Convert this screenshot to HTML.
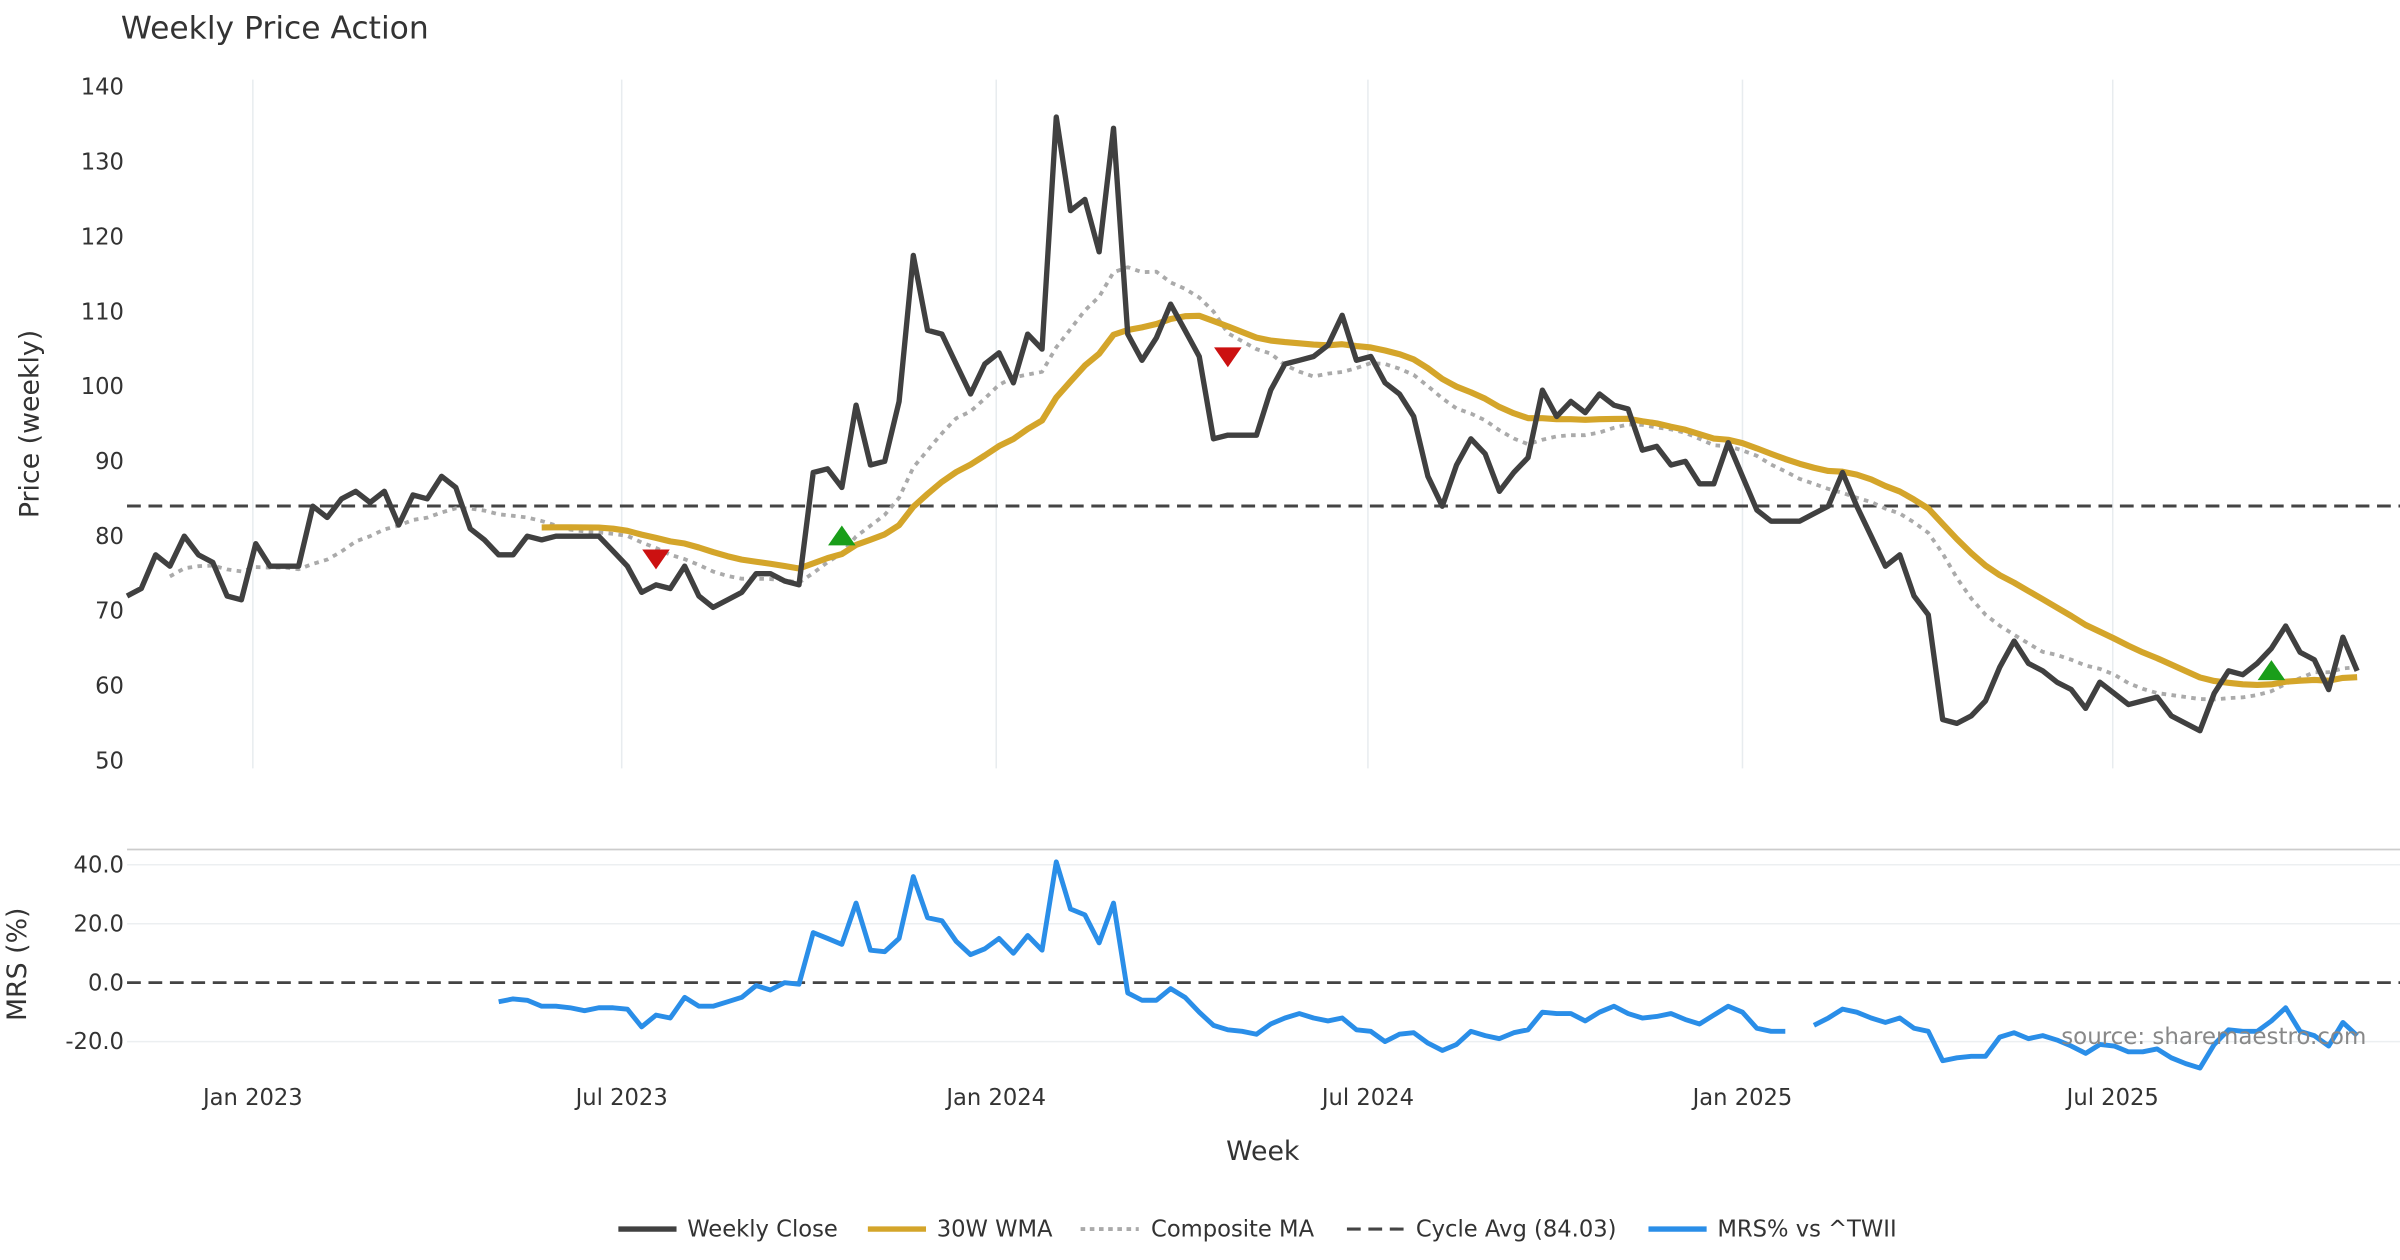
<!DOCTYPE html>
<html><head><meta charset="utf-8"><style>
html,body{margin:0;padding:0;background:#fff;}
svg{display:block;font-family:"DejaVu Sans","Liberation Sans",sans-serif;}
</style></head><body>
<svg id="chart" width="2400" height="1260" viewBox="0 0 1568 823.2" xmlns="http://www.w3.org/2000/svg">
<rect width="1568" height="823.2" fill="#fff"/>
<text x="79" y="25" font-size="20.5" fill="#333">Weekly Price Action</text>
<g id="grid"></g>
<g id="upper"></g>
<g id="lower"></g>
<text transform="translate(25,277) rotate(-90)" text-anchor="middle" font-size="17.5" fill="#333">Price (weekly)</text>
<text transform="translate(17,630) rotate(-90)" text-anchor="middle" font-size="17.5" fill="#333">MRS (%)</text>
<text x="825" y="758" text-anchor="middle" font-size="17.5" fill="#333">Week</text>
<text x="1546" y="682" text-anchor="end" font-size="15" fill="#888">source: sharemaestro.com</text>
<g font-size="14.8" fill="#333">
<line x1="404" y1="803" x2="442" y2="803" stroke="#404040" stroke-width="3.5"/><text x="449" y="808">Weekly Close</text>
<line x1="567" y1="803" x2="605" y2="803" stroke="#d4a52a" stroke-width="3.5"/><text x="612" y="808">30W WMA</text>
<line x1="706" y1="803" x2="744" y2="803" stroke="#aaa" stroke-width="2.5" stroke-dasharray="3,3"/><text x="752" y="808">Composite MA</text>
<line x1="880" y1="803" x2="918" y2="803" stroke="#444" stroke-width="2" stroke-dasharray="9,5"/><text x="925" y="808">Cycle Avg (84.03)</text>
<line x1="1077" y1="803" x2="1115" y2="803" stroke="#2a8ee8" stroke-width="3.5"/><text x="1122" y="808">MRS% vs ^TWII</text>
</g>
</svg>
<script>
const closes=[72,73,77.5,76,80,77.5,76.5,72,71.5,79,
76,76,76,84,82.5,85,86,84.5,86,81.5,
85.5,85,88,86.5,81,79.5,77.5,77.5,80,79.5,
80,80,80,80,78,76,72.5,73.5,73,76,
72,70.5,71.5,72.5,75,75,74,73.5,88.5,89,
86.5,97.5,89.5,90,98,117.5,107.5,107,103,99,
103,104.5,100.5,107,105,136,123.5,125,118,134.5,
107,103.5,106.5,111,107.5,104,93,93.5,93.5,93.5,
99.5,103,103.5,104,105.5,109.5,103.5,104,100.5,99,
96,88,84,89.5,93,91,86,88.5,90.5,99.5,
96,98,96.5,99,97.5,97,91.5,92,89.5,90,
87,87,92.5,88,83.5,82,82,82,83,84,
88.5,84,80,76,77.5,72,69.5,55.5,55,56,
58,62.5,66,63,62,60.5,59.5,57,60.5,59,
57.5,58,58.5,56,55,54,59,62,61.5,63,
65,68,64.5,63.5,59.5,66.5,62];
const mrs=[-6.5,-5.5,-6,-8,-8,-8.5,-9.5,-8.5,-8.5,-9,-15,-11,-12,-5,-8,-8,-6.5,-5,-1,-2.5,0,-0.5,17,15,13,27,11,10.5,15,36,22,21,14,9.5,11.5,15,10,16,11,41,
25,23,13.5,27,-3.5,-6,-6,-2,-5,-10,-14.5,-16,-16.5,-17.5,-14,-12,-10.5,-12,-13,-12,-16,-16.5,-20,-17.5,-17,-20.5,-23,-21,-16.5,-18,-19,-17,-16,-10,-10.5,-10.5,-13,-10,-8,-10.5,-12,-11.5,-10.5,-12.5,-14,-11,-8,-10,-15.5,-16.5,-16.5,null,
-14.5,-12,-9,-10,-12,-13.5,-12,-15.5,-16.5,-26.5,-25.5,-25,-25,-18.5,-17,-19,-18,-19.5,-21.5,-24,-21,-21.5,-23.5,-23.5,-22.5,-25.5,-27.5,-29,-21,-16,-16.5,-16.5,-13,-8.5,-16.5,-18,-21.5,-13.5,-18];
const cycleAvg=84.03;
const sigIdx=[37,50,77,150];
const sigVal=[77,80,104,62];
const sigType=["sell","buy","sell","buy"];
const priceTicks=[50,60,70,80,90,100,110,120,130,140];
const mrsTicks=[40,20,0,-20];
const monthLabels=["Jan 2023","Jul 2023","Jan 2024","Jul 2024","Jan 2025","Jul 2025"];
const monthWeeks=[8.8,34.6,60.8,86.8,113,138.9];

const NS="http://www.w3.org/2000/svg";
const X=i=>83+i*9.34;
const YP=v=>497-(v-50)*4.89;
const YM=v=>642-v*1.925;
function mk(tag,attrs,parent){const e=document.createElementNS(NS,tag);for(const k in attrs)e.setAttribute(k,attrs[k]);parent.appendChild(e);return e;}
const grid=document.getElementById('grid'),up=document.getElementById('upper'),lo=document.getElementById('lower');

monthWeeks.forEach((w,k)=>{
  const l=mk('line',{x1:X(w),x2:X(w),y1:52,y2:502,stroke:'#e8ecef','stroke-width':1},grid);
  
  
  const t=mk('text',{x:X(w),y:722,'text-anchor':'middle','font-size':14.8,fill:'#333'},grid);
  t.textContent=monthLabels[k];
  
  
});
priceTicks.forEach(v=>{
  const t=mk('text',{x:81,y:YP(v)+5,'text-anchor':'end','font-size':14.8,fill:'#333'},grid);
  t.textContent=v;
  
  
});
mrsTicks.forEach(v=>{
  if(v!==0){const g=mk('line',{x1:83,x2:1568,y1:YM(v),y2:YM(v),stroke:'#eceff1','stroke-width':1},grid);
  
  }
  const t=mk('text',{x:81,y:YM(v)+5,'text-anchor':'end','font-size':14.8,fill:'#333'},grid);
  t.textContent=v.toFixed(1);
  
  
});
const sep=mk('line',{x1:83,x2:1568,y1:555,y2:555,stroke:'#ccc','stroke-width':1.2},grid);



function path(pts,attrs,parent,name){
  let d='',pen=false;
  pts.forEach(p=>{if(p==null){pen=false;return;}d+=(pen?'L':'M')+p[0].toFixed(1)+','+p[1].toFixed(1);pen=true;});
  const e=mk('path',Object.assign({d:d,fill:'none','stroke-linejoin':'round'},attrs),parent);
  
  
  return e;
}
const ca=mk('line',{x1:83,x2:1568,y1:YP(cycleAvg),y2:YP(cycleAvg),stroke:'#444','stroke-width':2,'stroke-dasharray':'9,5'},up);


function sma(i,n){const s=Math.max(0,i-n+1);let t=0;for(let j=s;j<=i;j++)t+=closes[j];return t/(i-s+1);}
const comp=closes.map((c,i)=>i<3?null:[X(i),YP((sma(i,8)+sma(i,16))/2)]);
path(comp,{stroke:'#aaa','stroke-width':2.5,'stroke-dasharray':'3,3.5'},up,'composite-ma-line');
const wma=closes.map((c,i)=>{if(i<29)return null;let t=0,w=0;for(let k=0;k<30;k++){t+=closes[i-k]*(30-k);w+=30-k;}return [X(i),YP(t/w)];});
path(wma,{stroke:'#d4a52a','stroke-width':4},up,'wma-30w-line');
path(closes.map((c,i)=>[X(i),YP(c)]),{stroke:'#404040','stroke-width':3.5},up,'weekly-close-line');
sigIdx.forEach((ix,k)=>{
  const x=X(ix),y=YP(sigVal[k]);
  const pts=sigType[k]==='sell'?`${x-9},${y-6} ${x+9},${y-6} ${x},${y+7}`:`${x-9},${y+6} ${x+9},${y+6} ${x},${y-7}`;
  const t=mk('polygon',{points:pts,fill:sigType[k]==='sell'?'#cc1111':'#1a9e1a'},up);
  
  
});
const z=mk('line',{x1:83,x2:1568,y1:YM(0),y2:YM(0),stroke:'#444','stroke-width':1.8,'stroke-dasharray':'9,5'},lo);


const start=closes.length-mrs.length;
path(mrs.map((v,k)=>v==null?null:[X(start+k),YM(v)]),{stroke:'#2a8ee8','stroke-width':3.2},lo,'mrs-line');
</script>
</body></html>
